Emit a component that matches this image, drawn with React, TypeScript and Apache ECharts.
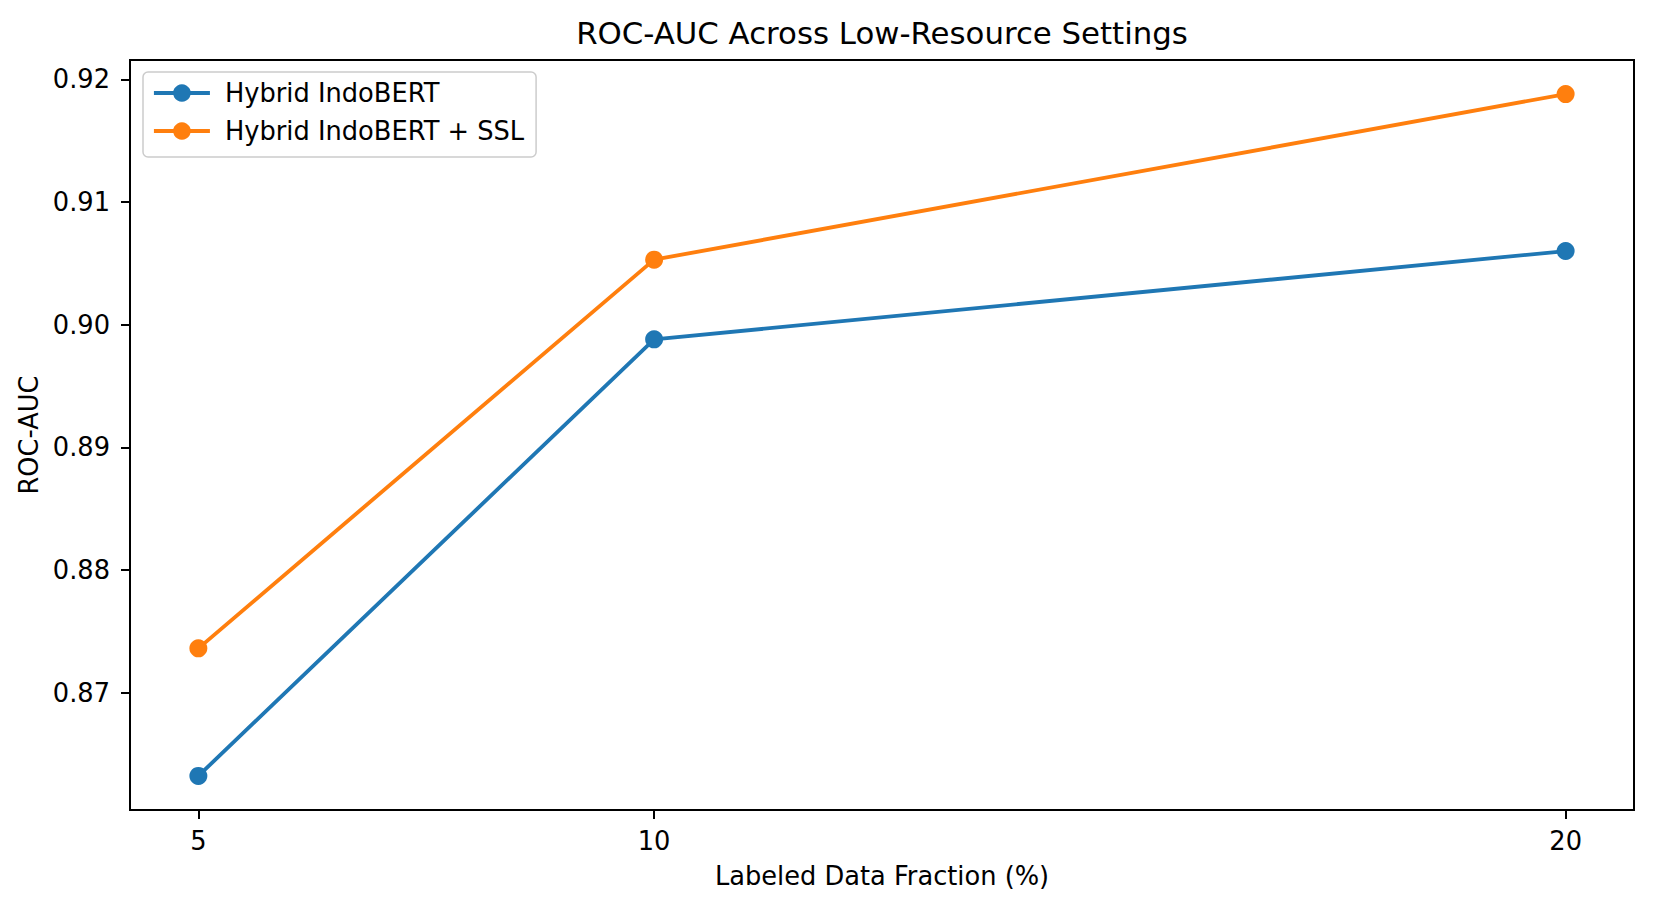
import { useEffect, useRef } from 'react';
import * as echarts from 'echarts';

// 데이터
const fractions = [5, 10, 20];
const hybridAuc = [0.8632, 0.8988, 0.906];
const hybridSslAuc = [0.8736, 0.9053, 0.9188];
const xTicks = [5, 10, 20];
const yTicks = [0.87, 0.88, 0.89, 0.9, 0.91, 0.92];

const BLUE = '#1f77b4';
const ORANGE = '#ff7f0e';
const FONT = 'DejaVu Sans';
const FS = 25.7; // 10pt
const GRID = { left: 130, right: 21, top: 60, bottom: 98 };

export default function App() {
  const chartRef = useRef<HTMLDivElement>(null);

  useEffect(() => {
    if (!chartRef.current) return;
    document.body.style.margin = '0';

    const chart = echarts.init(chartRef.current, undefined, { renderer: 'svg' });

    // matplotlib 식 5% 여백
    const allY = [...hybridAuc, ...hybridSslAuc];
    const yMin = Math.min(...allY);
    const yMax = Math.max(...allY);
    const yPad = (yMax - yMin) * 0.05;
    const xMin = Math.min(...fractions);
    const xMax = Math.max(...fractions);
    const xPad = (xMax - xMin) * 0.05;

    const tickStyle = { show: true, inside: false, length: 9, lineStyle: { color: '#000', width: 2 } };
    const plotCenterX = (GRID.left + 1655 - GRID.right) / 2;

    const option: echarts.EChartsOption = {
      animation: false,
      backgroundColor: '#fff',
      // 제목은 플롯 영역 기준 가운데 정렬
      graphic: [
        {
          type: 'text',
          x: plotCenterX,
          y: 33,
          style: {
            text: 'ROC-AUC Across Low-Resource Settings',
            fontFamily: FONT,
            fontSize: 30.8,
            fill: '#000',
            textAlign: 'center',
            textVerticalAlign: 'middle',
          },
        } as any,
      ],
      grid: {
        ...GRID,
        show: true,
        borderColor: '#000',
        borderWidth: 2,
        backgroundColor: 'transparent',
      },
      legend: {
        left: 143,
        top: 72,
        orient: 'vertical',
        padding: [8, 12, 13, 9],
        itemWidth: 56,
        itemHeight: 22,
        itemGap: 12,
        backgroundColor: 'rgba(255,255,255,0.8)',
        borderColor: '#cccccc',
        borderWidth: 1.5,
        borderRadius: 5,
        lineStyle: { width: 3.85 },
        textStyle: { fontFamily: FONT, fontSize: FS, lineHeight: 26, color: '#000', padding: [0, 0, 0, 10] },
        data: ['Hybrid IndoBERT', 'Hybrid IndoBERT + SSL'],
      },
      xAxis: {
        type: 'value',
        min: xMin - xPad,
        max: xMax + xPad,
        name: 'Labeled Data Fraction (%)',
        nameLocation: 'middle',
        nameGap: 53,
        nameTextStyle: { fontFamily: FONT, fontSize: FS, color: '#000' },
        axisLine: { show: true, lineStyle: { color: '#000', width: 2 } },
        axisTick: { ...tickStyle, customValues: xTicks } as any,
        axisLabel: {
          customValues: xTicks,
          margin: 18,
          fontFamily: FONT,
          fontSize: FS,
          color: '#000',
        } as any,
        splitLine: { show: false },
      },
      yAxis: {
        type: 'value',
        min: yMin - yPad,
        max: yMax + yPad,
        name: 'ROC-AUC',
        nameLocation: 'middle',
        nameGap: 83,
        nameRotate: 90,
        nameTextStyle: { fontFamily: FONT, fontSize: FS, color: '#000' },
        axisLine: { show: true, lineStyle: { color: '#000', width: 2 } },
        axisTick: { ...tickStyle, customValues: yTicks } as any,
        axisLabel: {
          customValues: yTicks,
          margin: 20,
          fontFamily: FONT,
          fontSize: FS,
          color: '#000',
          formatter: (v: number) => v.toFixed(2),
        } as any,
        splitLine: { show: false },
      },
      series: [
        {
          name: 'Hybrid IndoBERT',
          type: 'line',
          data: fractions.map((x, i) => [x, hybridAuc[i]]),
          symbol: 'circle',
          symbolSize: 18,
          color: BLUE,
          lineStyle: { width: 3.85, color: BLUE },
          itemStyle: { color: BLUE },
        },
        {
          name: 'Hybrid IndoBERT + SSL',
          type: 'line',
          data: fractions.map((x, i) => [x, hybridSslAuc[i]]),
          symbol: 'circle',
          symbolSize: 18,
          color: ORANGE,
          lineStyle: { width: 3.85, color: ORANGE },
          itemStyle: { color: ORANGE },
        },
      ],
    };

    chart.setOption(option);

    const handleResize = () => chart.resize();
    window.addEventListener('resize', handleResize);
    return () => {
      window.removeEventListener('resize', handleResize);
      chart.dispose();
    };
  }, []);

  return <div ref={chartRef} style={{ width: '1655px', height: '908px' }} />;
}
